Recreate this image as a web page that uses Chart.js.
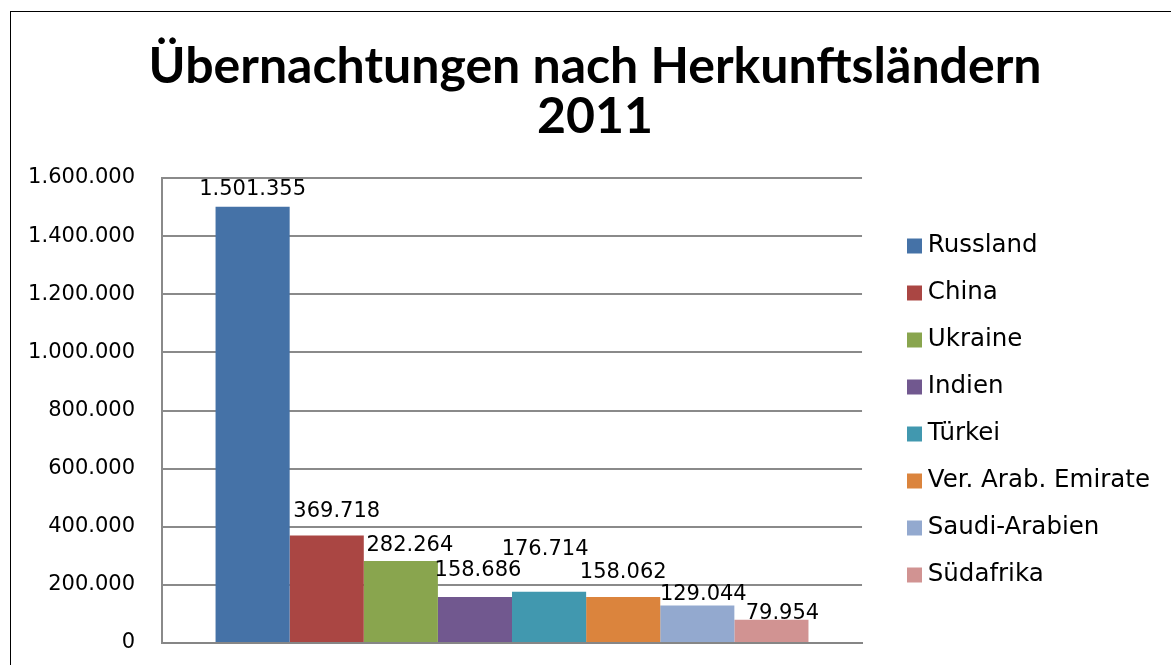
<!DOCTYPE html>
<html>
<head>
    <title>Übernachtungen nach Herkunftsländern 2011</title>
    <script src="https://cdn.jsdelivr.net/npm/chart.js@4/dist/chart.umd.min.js"></script>
    <style>
        body {
            margin: 0;
            background: #fff;
        }

        #chartContainer {
            position: relative;
            width: 1171px;
            height: 665px;
            overflow: hidden;
        }

        #frame {
            position: absolute;
            left: 10px;
            top: 11px;
            width: 1200px;
            height: 700px;
            border-left: 1px solid #000;
            border-top: 1px solid #000;
            pointer-events: none;
        }
    </style>
</head>
<body>
    <div id="chartContainer">
        <canvas id="stayChart" width="1171" height="665"></canvas>
        <div id="frame"></div>
    </div>

    <script>
        // data
        const countries = ['Russland', 'China', 'Ukraine', 'Indien', 'Türkei', 'Ver. Arab. Emirate', 'Saudi-Arabien', 'Südafrika'];
        const overnightStays = [1501355, 369718, 282264, 158686, 176714, 158062, 129044, 79954];
        const barColors = ['#4572A7', '#AA4643', '#89A54E', '#71588F', '#4198AF', '#DB843D', '#93A9CF', '#D19392'];
        const yTickMax = 1600000;
        const yTickStep = 200000;

        // label nudges (px) so the value labels sit like in the original
        const labelLift = [12, 19, 10, 21, 37, 19, 5, 1];
        const labelShiftX = [0, 10, 9, 3, -4, 0, 6, 11];

        function formatDE(value) {
            return String(value).replace(/\B(?=(\d{3})+(?!\d))/g, '.');
        }

        const valueLabels = {
            id: 'valueLabels',
            afterDatasetsDraw(chart) {
                const ctx = chart.ctx;
                ctx.save();
                ctx.font = '21px "DejaVu Sans"';
                ctx.fillStyle = '#000';
                ctx.textAlign = 'center';
                ctx.textBaseline = 'alphabetic';
                chart.data.datasets.forEach((ds, i) => {
                    const bar = chart.getDatasetMeta(i).data[0];
                    ctx.fillText(formatDE(ds.data[0]), bar.x + labelShiftX[i], bar.y - labelLift[i]);
                });
                ctx.restore();
            }
        };

        const ctx = document.getElementById('stayChart').getContext('2d');
        const stayChart = new Chart(ctx, {
            type: 'bar',
            data: {
                labels: [''],
                datasets: countries.map((name, i) => ({
                    label: name,
                    data: [overnightStays[i]],
                    backgroundColor: barColors[i],
                    borderWidth: 0,
                    categoryPercentage: 0.847,
                    barPercentage: 1
                }))
            },
            options: {
                responsive: false,
                animation: false,
                layout: {
                    padding: { left: 30, right: 11, top: 0, bottom: 22 }
                },
                plugins: {
                    title: {
                        display: true,
                        text: ['Übernachtungen nach Herkunftsländern', '2011'],
                        color: '#000',
                        font: { family: 'Lato', weight: 'bold', size: 50, lineHeight: 1.0 },
                        padding: { top: 42, bottom: 36 }
                    },
                    legend: {
                        position: 'right',
                        fullSize: false,
                        maxWidth: 320,
                        labels: {
                            usePointStyle: true,
                            pointStyle: 'rect',
                            boxWidth: 2,
                            boxHeight: 15,
                            padding: 22.5,
                            color: '#000',
                            font: { family: 'DejaVu Sans', size: 24.5 }
                        }
                    },
                    tooltip: { enabled: false }
                },
                scales: {
                    x: {
                        grid: { display: false, drawTicks: false },
                        ticks: { display: false },
                        border: { color: '#868686', width: 2 }
                    },
                    y: {
                        min: 0,
                        max: yTickMax,
                        afterFit: scale => {
                            scale.width = 132;
                            scale.paddingTop = 0;
                            scale.paddingBottom = 0;
                        },
                        ticks: {
                            stepSize: yTickStep,
                            padding: 27,
                            color: '#000',
                            font: { family: 'DejaVu Sans', size: 21 },
                            callback: value => formatDE(value)
                        },
                        grid: { color: '#8a8a8a', lineWidth: 2, drawTicks: false },
                        border: { color: '#8a8a8a', width: 2 }
                    },
                    spacer: {
                        position: 'right',
                        afterFit: scale => { scale.width = 29; },
                        grid: { display: false },
                        ticks: { display: false },
                        border: { display: false }
                    }
                }
            },
            plugins: [valueLabels]
        });
    </script>
</body>
</html>
